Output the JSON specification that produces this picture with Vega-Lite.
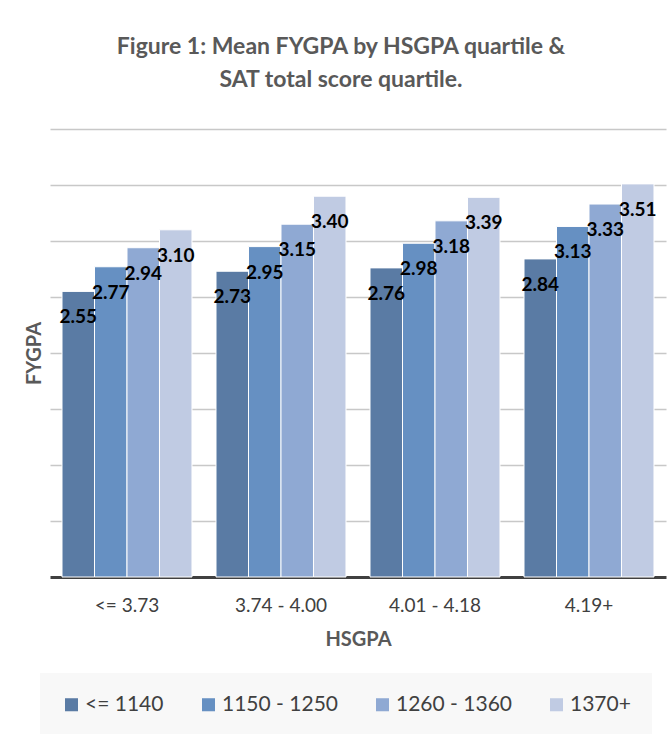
{
  "$schema": "https://vega.github.io/schema/vega-lite/v6.json",
  "autosize": "none",
  "width": 616,
  "height": 448,
  "padding": {"left": 50, "top": 129, "right": 6, "bottom": 157},
  "background": "white",
  "config": {
    "font": "Lato",
    "view": {"stroke": null}
  },
  "title": {
    "text": ["Figure 1: Mean FYGPA by HSGPA quartile &", "SAT total score quartile."],
    "font": "Lato",
    "fontSize": 23,
    "fontWeight": "bold",
    "color": "#595959",
    "anchor": "middle",
    "lineHeight": 33,
    "offset": 37,
    "dx": -17
  },
  "data": {
    "values": [
      {"HSGPA": "<= 3.73", "SAT": "<= 1140", "FYGPA": 2.55},
      {"HSGPA": "<= 3.73", "SAT": "1150 - 1250", "FYGPA": 2.77},
      {"HSGPA": "<= 3.73", "SAT": "1260 - 1360", "FYGPA": 2.94},
      {"HSGPA": "<= 3.73", "SAT": "1370+", "FYGPA": 3.10},
      {"HSGPA": "3.74 - 4.00", "SAT": "<= 1140", "FYGPA": 2.73},
      {"HSGPA": "3.74 - 4.00", "SAT": "1150 - 1250", "FYGPA": 2.95},
      {"HSGPA": "3.74 - 4.00", "SAT": "1260 - 1360", "FYGPA": 3.15},
      {"HSGPA": "3.74 - 4.00", "SAT": "1370+", "FYGPA": 3.40},
      {"HSGPA": "4.01 - 4.18", "SAT": "<= 1140", "FYGPA": 2.76},
      {"HSGPA": "4.01 - 4.18", "SAT": "1150 - 1250", "FYGPA": 2.98},
      {"HSGPA": "4.01 - 4.18", "SAT": "1260 - 1360", "FYGPA": 3.18},
      {"HSGPA": "4.01 - 4.18", "SAT": "1370+", "FYGPA": 3.39},
      {"HSGPA": "4.19+", "SAT": "<= 1140", "FYGPA": 2.84},
      {"HSGPA": "4.19+", "SAT": "1150 - 1250", "FYGPA": 3.13},
      {"HSGPA": "4.19+", "SAT": "1260 - 1360", "FYGPA": 3.33},
      {"HSGPA": "4.19+", "SAT": "1370+", "FYGPA": 3.51}
    ]
  },
  "encoding": {
    "x": {
      "field": "HSGPA",
      "type": "nominal",
      "sort": ["<= 3.73", "3.74 - 4.00", "4.01 - 4.18", "4.19+"],
      "scale": {"paddingInner": 0.156, "paddingOuter": 0.078},
      "axis": {
        "title": "HSGPA",
        "labelAngle": 0,
        "labelFontSize": 19,
        "labelColor": "#404040",
        "labelPadding": 19,
        "titleFontSize": 20,
        "titleFontWeight": "bold",
        "titleColor": "#595959",
        "titlePadding": 14,
        "ticks": false,
        "domainColor": "#404040",
        "domainWidth": 3
      }
    },
    "xOffset": {
      "field": "SAT",
      "type": "nominal",
      "sort": ["<= 1140", "1150 - 1250", "1260 - 1360", "1370+"],
      "scale": {"paddingInner": 0, "paddingOuter": 0}
    },
    "y": {
      "field": "FYGPA",
      "type": "quantitative",
      "scale": {"domain": [0, 4], "nice": false},
      "axis": {
        "title": "FYGPA",
        "values": [0.5, 1, 1.5, 2, 2.5, 3, 3.5, 4],
        "labels": false,
        "ticks": false,
        "domain": false,
        "gridColor": "#c8c8c8",
        "gridWidth": 1.5,
        "titleFontSize": 20,
        "titleFontWeight": "bold",
        "titleColor": "#595959",
        "titlePadding": 6
      }
    }
  },
  "layer": [
    {
      "mark": {"type": "bar", "stroke": "white", "strokeWidth": 1},
      "encoding": {
        "color": {
          "field": "SAT",
          "type": "nominal",
          "scale": {
            "domain": ["<= 1140", "1150 - 1250", "1260 - 1360", "1370+"],
            "range": ["#5a7ba4", "#6690c2", "#8fa9d3", "#c0cbe3"]
          },
          "legend": {
            "title": null,
            "orient": "none",
            "direction": "horizontal",
            "legendX": -10,
            "legendY": 544,
            "padding": 21,
            "fillColor": "#f8f8f8",
            "symbolType": "square",
            "symbolSize": 170,
            "symbolStrokeWidth": 0,
            "labelFontSize": 21,
            "labelColor": "#404040",
            "labelOffset": 3,
            "columnPadding": 34
          }
        }
      }
    },
    {
      "mark": {
        "type": "text",
        "dy": 26,
        "fontSize": 19,
        "fontWeight": "bold",
        "color": "black",
        "align": "center",
        "baseline": "middle"
      },
      "encoding": {
        "text": {"field": "FYGPA", "type": "quantitative", "format": ".2f"}
      }
    }
  ]
}
